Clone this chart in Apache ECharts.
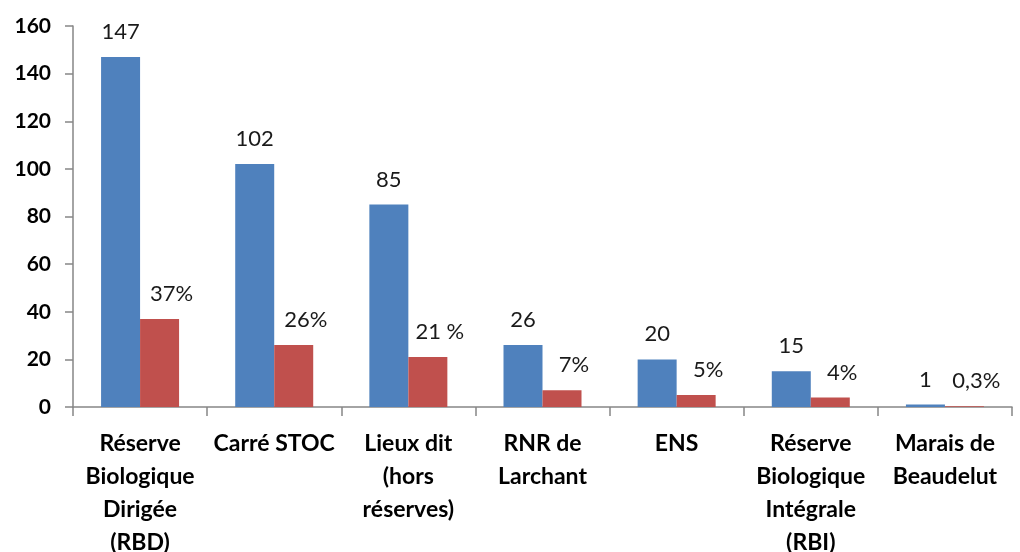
<!DOCTYPE html>
<html><head><meta charset="utf-8">
<script src="https://cdn.jsdelivr.net/npm/echarts@6/dist/echarts.min.js"></script>
<style>html,body{margin:0;padding:0;background:#fff}#c{width:1020px;height:552px}</style>
</head><body><div id="c"></div>
<script>
const categories = ["Réserve\nBiologique\nDirigée\n(RBD)", "Carré STOC", "Lieux dit\n(hors\nréserves)", "RNR de\nLarchant", "ENS", "Réserve\nBiologique\nIntégrale\n(RBI)", "Marais de\nBeaudelut"];
const counts = [147, 102, 85, 26, 20, 15, 1];
const percents = [37, 26, 21, 7, 5, 4, 0.3];
const percentLabels = ["37%", "26%", "21 %", "7%", "5%", "4%", "0,3%"];
const yTicks = [0, 20, 40, 60, 80, 100, 120, 140, 160];

const chart = echarts.init(document.getElementById('c'), null, {renderer: 'canvas'});
const font = 'Lato, "Open Sans", sans-serif';
chart.setOption({
  animation: false,
  grid: {left: 73, right: 8, top: 26, bottom: 145, containLabel: false, outerBoundsMode: 'none'},
  xAxis: {
    type: 'category', data: categories,
    axisLine: {lineStyle: {color: '#868686', width: 1.5}},
    axisTick: {show: true, length: 9, lineStyle: {color: '#868686', width: 1.5}},
    axisLabel: {interval: 0, color: '#000', fontFamily: font, fontWeight: 'bold', fontSize: 23, lineHeight: 33, margin: 20}
  },
  yAxis: {
    type: 'value', min: yTicks[0], max: yTicks[yTicks.length - 1], interval: 20,
    axisLine: {show: true, lineStyle: {color: '#868686', width: 1.5}},
    axisTick: {show: true, length: 8, lineStyle: {color: '#868686', width: 1.5}},
    splitLine: {show: false},
    axisLabel: {color: '#000', fontFamily: font, fontWeight: 'bold', fontSize: 21, margin: 22}
  },
  series: [
    {type: 'bar', data: counts, barWidth: 39, barGap: '0%',
     itemStyle: {color: '#4F81BD'},
     label: {show: true, position: 'top', distance: 14, color: '#1a1a1a', fontFamily: font, fontSize: 22}},
    {type: 'bar', data: percents, barWidth: 39,
     itemStyle: {color: '#C0504D'},
     label: {show: true, position: 'top', distance: 14, offset: [12, 0], color: '#1a1a1a', fontFamily: font, fontSize: 22,
       formatter: p => percentLabels[p.dataIndex]}}
  ]
});
</script></body></html>
